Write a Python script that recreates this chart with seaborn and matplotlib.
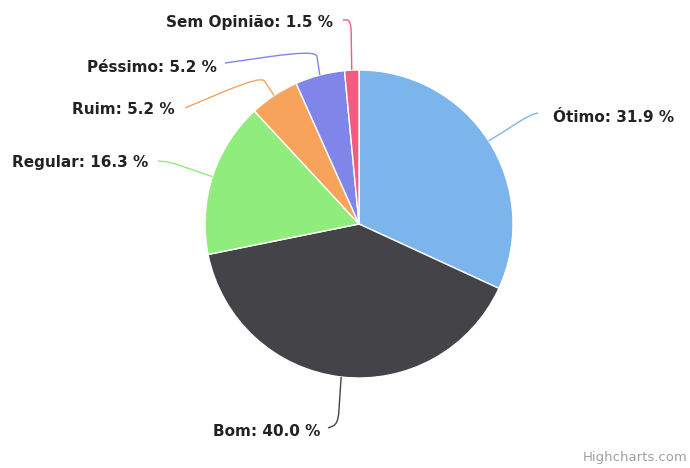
import numpy as np
import matplotlib
matplotlib.use("Agg")
import matplotlib.pyplot as plt
from matplotlib.path import Path
from matplotlib.patches import PathPatch
import seaborn as sns

# data
categories = ["Ótimo", "Bom", "Regular", "Ruim", "Péssimo", "Sem Opinião"]
shares = [31.9, 40.0, 16.3, 5.2, 5.2, 1.5]
slice_colors = ["#7cb5ec", "#434348", "#90ed7d", "#f7a35c", "#8085e9", "#f15c80"]

# layout (pixel coordinates, y downward) for label text and connector bends
W, H = 690, 468
cx, cy, R = 359, 224, 154
label_layout = {
    "Ótimo": dict(text=(553, 118), ha="left", bend=(530, 115), end=(538, 113)),
    "Bom": dict(text=(320, 431), ha="right", bend=(338, 424), end=(328, 428)),
    "Regular": dict(text=(148, 163), ha="right", bend=(170, 162), end=(158, 161)),
    "Ruim": dict(text=(175, 110), ha="right", bend=(261, 76), end=(185, 108)),
    "Péssimo": dict(text=(217, 67), ha="right", bend=(316, 50), end=(225, 63)),
    "Sem Opinião": dict(text=(333, 22), ha="right", bend=(351, 20), end=(343, 20)),
}

sns.set_style("white")
plt.rcParams["font.family"] = ["DejaVu Sans"]
palette = sns.color_palette(slice_colors)

fig = plt.figure(figsize=(W / 100, H / 100), dpi=100)
ax = fig.add_axes([0, 0, 1, 1])

ax.pie(
    shares,
    colors=palette,
    startangle=90,
    counterclock=False,
    center=(cx, H - cy),
    radius=R,
    wedgeprops=dict(edgecolor="white", linewidth=1),
)
ax.set_xlim(0, W)
ax.set_ylim(0, H)
ax.set_aspect("equal")
ax.axis("off")

total = sum(shares)
cum = np.cumsum([0] + shares[:-1])
for name, val, start, col in zip(categories, shares, cum, slice_colors):
    mid = np.deg2rad((start + val / 2) / total * 360)
    ex, ey = cx + R * np.sin(mid), cy - R * np.cos(mid)
    lay = label_layout[name]
    bx, by = lay["bend"]
    tx, ty = lay["end"]
    # short straight part before the bend, then rounded corner to the label
    f = 0.75
    p1 = (ex + (bx - ex) * f, ey + (by - ey) * f)
    p2 = (bx + (tx - bx) * 0.5, by + (ty - by) * 0.5)
    verts = [(ex, ey), p1, (bx, by), p2, (tx, ty)]
    verts = [(x, H - y) for x, y in verts]
    codes = [Path.MOVETO, Path.LINETO, Path.CURVE3, Path.CURVE3, Path.LINETO]
    ax.add_patch(PathPatch(Path(verts, codes), fill=False, edgecolor=col, lw=1))
    lx, ly = lay["text"]
    ax.text(lx, H - ly, f"{name}: {val:.1f} %", ha=lay["ha"], va="center",
            fontsize=11, fontweight="bold", color="#222222")

ax.text(688, H - 458, "Highcharts.com", ha="right", va="center",
        fontsize=9.5, color="#a0a0a0")

fig.savefig("out.png", dpi=100, facecolor="white")
